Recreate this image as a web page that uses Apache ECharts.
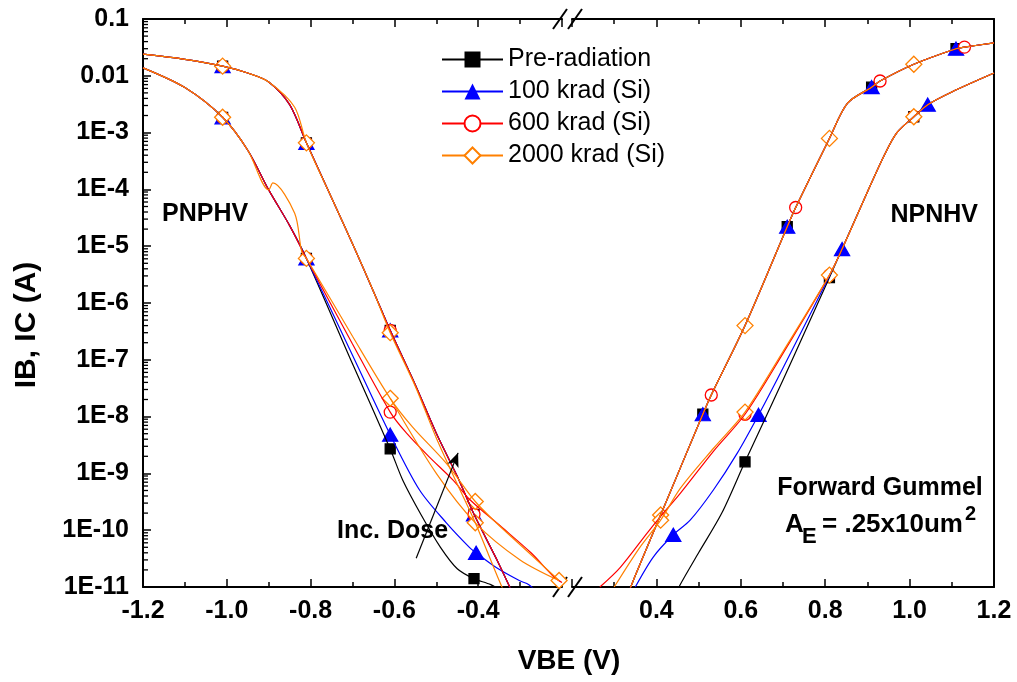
<!DOCTYPE html>
<html>
<head>
<meta charset="utf-8">
<script src="https://cdn.jsdelivr.net/npm/echarts@6/dist/echarts.min.js"></script>
<style>
    html, body { margin: 0; padding: 0; background: #fff; }
    #chart { width: 1017px; height: 682px; }
</style>
</head>
<body>
<div id="chart"></div>
<script>
    // legend names, one colour / marker per dose
    const doseNames = ['Pre-radiation', '100 krad (Si)', '600 krad (Si)', '2000 krad (Si)']

    // broken VBE axis: PNP half and NPN half
    const pnpRange = [-1.2, -0.2]
    const npnRange = [0.2, 1.2]
    const currentRange = [1e-11, 0.1]

    // ---- PNPHV, [VBE (V), I (A)] ----
    const pnpIC_common = [[-1.2, 2.4e-2], [-1.1, 1.95e-2], [-1.01, 1.48e-2], [-0.95, 1.12e-2], [-0.9, 7.8e-3], [-0.85, 3.1e-3],
        [-0.81, 6.6e-4], [-0.75, 7.1e-5], [-0.7, 1.1e-5], [-0.65, 1.6e-6], [-0.61, 3.3e-7], [-0.55, 3.6e-8], [-0.5, 5.1e-9],
        [-0.45, 8.9e-10], [-0.41, 1.9e-10], [-0.35, 2.5e-11], [-0.3, 4e-12]]
    const pnpIC_2000k = [[-1.2, 2.4e-2], [-1.1, 1.95e-2], [-1.01, 1.48e-2], [-0.95, 1.12e-2], [-0.9, 7.8e-3], [-0.838, 2.8e-3],
        [-0.81, 6.6e-4], [-0.75, 7.1e-5], [-0.7, 1.1e-5], [-0.65, 1.6e-6], [-0.61, 3.0e-7], [-0.55, 3.4e-8], [-0.5, 4.2e-9],
        [-0.45, 6.5e-10], [-0.407, 1.35e-10], [-0.35, 1.3e-11], [-0.33, 6e-12]]
    const pnpIB_pre = [[-1.2, 1.38e-2], [-1.1, 6.2e-3], [-1.01, 1.86e-3], [-0.95, 4.9e-4], [-0.9, 9.8e-5], [-0.85, 2.3e-5],
        [-0.81, 6.1e-6], [-0.7, 8.5e-8], [-0.61, 2.7e-9], [-0.58, 7.6e-10], [-0.535, 1.8e-10], [-0.49, 5e-11], [-0.45, 2.1e-11],
        [-0.41, 1.4e-11], [-0.37, 1.1e-11], [-0.34, 8e-12]]
    const pnpIB_100k = [[-1.2, 1.38e-2], [-1.1, 6.2e-3], [-1.01, 1.86e-3], [-0.95, 4.9e-4], [-0.9, 9.8e-5], [-0.85, 2.3e-5],
        [-0.81, 6.1e-6], [-0.7, 1.2e-7], [-0.61, 4.8e-9], [-0.54, 5.1e-10], [-0.476, 1.35e-10], [-0.421, 5e-11], [-0.405, 4e-11],
        [-0.357, 2.2e-11], [-0.302, 1.3e-11], [-0.279, 1.1e-11], [-0.26, 8e-12]]
    const pnpIB_600k = [[-1.2, 1.38e-2], [-1.1, 6.2e-3], [-1.01, 1.86e-3], [-0.95, 4.9e-4], [-0.9, 9.8e-5], [-0.85, 2.3e-5],
        [-0.81, 6.1e-6], [-0.7, 1.9e-7], [-0.61, 1.2e-8], [-0.571, 5.1e-9], [-0.517, 1.95e-9], [-0.46, 7.6e-10], [-0.419, 3.4e-10],
        [-0.345, 1.15e-10], [-0.274, 4e-11], [-0.219, 1.5e-11], [-0.2, 1.2e-11]]
    const pnpIB_2000k = [[-1.2, 1.38e-2], [-1.1, 6.2e-3], [-1.01, 1.86e-3], [-0.95, 4.9e-4], [-0.9, 9.8e-5], [-0.89, 1.3e-4],
        [-0.838, 3.8e-5], [-0.821, 7.9e-6], [-0.81, 6.1e-6], [-0.7, 2.6e-7], [-0.61, 2.1e-8], [-0.557, 6.6e-9], [-0.476, 1.5e-9],
        [-0.407, 3.2e-10], [-0.357, 1.35e-10], [-0.279, 4e-11], [-0.207, 1.3e-11]]
    // second 2000 krad trace below the first one
    const pnpIB_2000k_b = [[-0.61, 2.1e-8], [-0.5, 1.0e-9], [-0.407, 1.35e-10], [-0.3, 3e-11], [-0.207, 1.3e-11]]

    // ---- NPNHV ----
    const npnIC_common = [[0.33, 6.6e-12], [0.35, 1.6e-11], [0.41, 1.85e-10], [0.51, 1.1e-8], [0.53, 2.4e-8], [0.61, 4e-7],
        [0.71, 2.2e-5], [0.73, 4.8e-5], [0.81, 7.9e-4], [0.853, 3.3e-3], [0.91, 6.3e-3], [0.93, 8.1e-3], [1.01, 1.6e-2],
        [1.11, 3.0e-2], [1.13, 3.2e-2], [1.2, 3.8e-2]]
    const npnIB_pre = [[0.44, 6e-12], [0.455, 1.05e-11], [0.5, 4e-11], [0.555, 2e-10], [0.61, 1.6e-9], [0.7, 4.4e-8], [0.75, 2.9e-7],
        [0.81, 2.8e-6], [0.84, 8.9e-6], [0.9, 9e-5], [0.94, 4e-4], [0.97, 1e-3], [1.01, 1.9e-3], [1.043, 3.1e-3], [1.1, 5.2e-3], [1.2, 1.12e-2]]
    const npnIB_100k = [[0.35, 1e-11], [0.393, 3.4e-11], [0.44, 8.3e-11], [0.48, 1.5e-10], [0.535, 5.1e-10], [0.592, 2.3e-9],
        [0.642, 1.07e-8], [0.7, 7.2e-8], [0.81, 3.0e-6], [0.84, 8.9e-6], [0.9, 9e-5], [0.94, 4e-4], [0.97, 1e-3], [1.01, 1.9e-3],
        [1.043, 3.1e-3], [1.1, 5.2e-3], [1.2, 1.12e-2]]
    const npnIB_600k = [[0.266, 1e-11], [0.314, 2.2e-11], [0.378, 8.9e-11], [0.41, 1.75e-10], [0.457, 4.5e-10], [0.536, 2.5e-9],
        [0.61, 1.1e-8], [0.7, 1.3e-7], [0.81, 3.1e-6], [0.84, 8.9e-6], [0.9, 9e-5], [0.94, 4e-4], [0.97, 1e-3], [1.01, 1.9e-3],
        [1.043, 3.1e-3], [1.1, 5.2e-3], [1.2, 1.12e-2]]
    const npnIB_2000k = [[0.3, 1e-11], [0.36, 4.9e-11], [0.41, 1.5e-10], [0.457, 5.5e-10], [0.536, 2.8e-9], [0.61, 1.2e-8],
        [0.7, 1.4e-7], [0.81, 3.1e-6], [0.84, 8.9e-6], [0.9, 9e-5], [0.94, 4e-4], [0.97, 1e-3], [1.01, 1.9e-3], [1.043, 3.1e-3],
        [1.1, 5.2e-3], [1.2, 1.12e-2]]

    // measured points that carry a marker
    const pnpMarks_pre = [[-1.01, 1.48e-2], [-0.81, 6.6e-4], [-0.61, 3.3e-7], [-0.41, 1.9e-10],
        [-1.01, 1.86e-3], [-0.81, 6.1e-6], [-0.61, 2.7e-9], [-0.41, 1.4e-11]]
    const pnpMarks_100k = [[-1.01, 1.48e-2], [-0.81, 6.6e-4], [-0.61, 3.3e-7], [-0.41, 1.9e-10],
        [-1.01, 1.86e-3], [-0.81, 6.1e-6], [-0.61, 4.8e-9], [-0.405, 4e-11]]
    const pnpMarks_600k = [[-1.01, 1.48e-2], [-0.81, 6.6e-4], [-0.61, 3.3e-7], [-0.41, 1.9e-10],
        [-1.01, 1.86e-3], [-0.81, 6.1e-6], [-0.61, 1.2e-8]]
    const pnpMarks_2000k = [[-1.01, 1.48e-2], [-0.81, 6.6e-4], [-0.61, 3.0e-7], [-0.407, 1.35e-10],
        [-1.01, 1.86e-3], [-0.81, 6.1e-6], [-0.61, 2.1e-8], [-0.407, 3.2e-10], [-0.207, 1.3e-11]]
    const npnMarks_pre = [[0.51, 1.1e-8], [0.71, 2.2e-5], [0.91, 6.3e-3], [1.11, 3.0e-2],
        [0.61, 1.6e-9], [0.81, 2.8e-6], [1.01, 1.9e-3]]
    const npnMarks_100k = [[0.51, 1.1e-8], [0.71, 2.2e-5], [0.91, 6.3e-3], [1.11, 3.0e-2],
        [0.44, 8.3e-11], [0.642, 1.07e-8], [0.84, 8.9e-6], [1.043, 3.1e-3]]
    const npnMarks_600k = [[0.53, 2.4e-8], [0.73, 4.8e-5], [0.93, 8.1e-3], [1.13, 3.2e-2],
        [0.41, 1.75e-10], [0.61, 1.1e-8], [0.81, 3.1e-6], [1.01, 1.9e-3]]
    const npnMarks_2000k = [[0.41, 1.85e-10], [0.61, 4e-7], [0.81, 7.9e-4], [1.01, 1.6e-2],
        [0.41, 1.5e-10], [0.61, 1.2e-8], [0.81, 3.1e-6], [1.01, 1.9e-3]]

    // "Inc. Dose" arrow, tail -> head
    const doseArrow = [[-0.548, 3.2e-11], [-0.448, 2.3e-9]]

    const FONT = 'Liberation Sans'
    const doses = [
        { name: doseNames[0], color: '#000000', legendSymbol: 'rect', symbol: 'rect', size: 10, fill: '#000000',
            pnp: [pnpIC_common, pnpIB_pre], npn: [npnIC_common, npnIB_pre], marks: [pnpMarks_pre, npnMarks_pre] },
        { name: doseNames[1], color: '#0000FF', legendSymbol: 'triangle', symbol: 'triangle', size: [15, 13], fill: '#0000FF',
            pnp: [pnpIC_common, pnpIB_100k], npn: [npnIC_common, npnIB_100k], marks: [pnpMarks_100k, npnMarks_100k] },
        { name: doseNames[2], color: '#FF0000', legendSymbol: 'emptyCircle', symbol: 'circle', size: 12, fill: '#FFFFFF',
            pnp: [pnpIC_common, pnpIB_600k], npn: [npnIC_common, npnIB_600k], marks: [pnpMarks_600k, npnMarks_600k] },
        { name: doseNames[3], color: '#FF8000', legendSymbol: 'emptyDiamond', symbol: 'diamond', size: 16, fill: '#FFFFFF',
            pnp: [pnpIC_2000k, pnpIB_2000k, pnpIB_2000k_b], npn: [npnIC_common, npnIB_2000k], marks: [pnpMarks_2000k, npnMarks_2000k] }
    ]

    const lineSeries = (d, side, data) => ({
        name: d.name,
        type: 'line',
        xAxisIndex: side === 0 ? 0 : 2,
        yAxisIndex: side,
        data: data,
        smooth: 0.3,
        symbol: d.legendSymbol,
        showSymbol: false,
        lineStyle: { color: d.color, width: 1.2 },
        itemStyle: { color: d.color },
        emphasis: { disabled: true },
        silent: true
    })
    const markSeries = (d, side, data) => ({
        name: d.name,
        type: 'scatter',
        xAxisIndex: side === 0 ? 0 : 2,
        yAxisIndex: side,
        data: data,
        symbol: d.symbol,
        symbolSize: d.size,
        itemStyle: { color: d.fill, borderColor: d.color, borderWidth: 1.3, opacity: 1 },
        emphasis: { disabled: true },
        silent: true
    })

    let series = []
    doses.forEach(d => {
        d.pnp.forEach(c => series.push(lineSeries(d, 0, c)))
        series.push(markSeries(d, 0, d.marks[0]))
        d.npn.forEach(c => series.push(lineSeries(d, 1, c)))
        series.push(markSeries(d, 1, d.marks[1]))
    })
    series[0].markLine = {
        silent: true,
        symbol: ['none', 'arrow'],
        symbolSize: [9, 14],
        label: { show: false },
        lineStyle: { color: '#000', width: 1.2, type: 'solid' },
        data: [[{ coord: doseArrow[0] }, { coord: doseArrow[1] }]]
    }

    // log minor ticks (2..9 x 10^n) drawn on the left axis
    let minorTickVals = []
    for (let e = -11; e < -1; e++) {
        for (let k = 2; k <= 9; k++) minorTickVals.push(k * Math.pow(10, e))
    }
    series.push({
        type: 'custom',
        xAxisIndex: 0,
        yAxisIndex: 0,
        silent: true,
        clip: false,
        data: minorTickVals.map(v => [pnpRange[0], v]),
        renderItem: (params, api) => {
            const p = api.coord([api.value(0), api.value(1)])
            return {
                type: 'line',
                shape: { x1: p[0], y1: p[1], x2: p[0] + 5, y2: p[1] },
                style: { stroke: '#000', lineWidth: 1.3 }
            }
        }
    })

    const tickLabel = { fontSize: 25, fontWeight: 'bold', color: '#000', fontFamily: FONT }
    const xAxes = (gridIndex, range, isLeft) => {
        const base = {
            gridIndex: gridIndex,
            type: 'value',
            min: range[0],
            max: range[1],
            interval: 0.2,
            splitLine: { show: false },
            axisLine: { onZero: false, lineStyle: { color: '#000', width: 2 } },
            axisTick: { inside: true, length: 8, lineStyle: { color: '#000', width: 1.5 } },
            minorTick: { show: true, splitNumber: 2, length: 5, lineStyle: { color: '#000', width: 1.5 } }
        }
        return [
            Object.assign({}, base, {
                position: 'bottom',
                axisLabel: Object.assign({
                    margin: 12,
                    showMinLabel: isLeft,
                    showMaxLabel: !isLeft,
                    formatter: v => v.toFixed(1)
                }, tickLabel)
            }),
            Object.assign({}, base, { position: 'top', axisLabel: { show: false } })
        ]
    }

    const expLabel = v => {
        const e = Math.round(Math.log10(v))
        if (e === -1) return '0.1'
        if (e === -2) return '0.01'
        return '1E' + e
    }
    const logAxis = (gridIndex, side) => ({
        gridIndex: gridIndex,
        type: 'log',
        logBase: 10,
        min: currentRange[0],
        max: currentRange[1],
        interval: 1,
        position: side,
        splitLine: { show: false },
        axisLine: { show: true, onZero: false, lineStyle: { color: '#000', width: 2 } }
    })

    const boldText = (text, x, y, size, align, extra) => Object.assign({
        type: 'text',
        x: x,
        y: y,
        silent: true,
        style: {
            text: text,
            fill: '#000',
            font: 'bold ' + size + 'px "' + FONT + '"',
            textAlign: align || 'left',
            textVerticalAlign: 'middle'
        }
    }, extra || {})
    const slash = (cx, cy) => ({
        type: 'line',
        silent: true,
        shape: { x1: cx - 7, y1: cy + 10, x2: cx + 7, y2: cy - 10 },
        style: { stroke: '#000', lineWidth: 2 }
    })

    const option = {
        animation: false,
        backgroundColor: '#fff',
        textStyle: { fontFamily: FONT },
        grid: [
            { left: 143, top: 19, width: 419, height: 568 },
            { left: 572, top: 19, width: 422, height: 568 }
        ],
        xAxis: xAxes(0, pnpRange, true).concat(xAxes(1, npnRange, false)),
        yAxis: [
            Object.assign(logAxis(0, 'left'), {
                axisTick: { show: true, inside: true, length: 8, lineStyle: { color: '#000', width: 1.5 } },
                axisLabel: Object.assign({ margin: 14, formatter: expLabel }, tickLabel)
            }),
            Object.assign(logAxis(1, 'right'), {
                axisTick: { show: false },
                axisLabel: { show: false }
            })
        ],
        legend: {
            data: doseNames,
            orient: 'vertical',
            left: 436,
            top: 42,
            itemWidth: 61,
            itemHeight: 20,
            itemGap: 7,
            selectedMode: false,
            textStyle: { fontSize: 25, color: '#000', fontFamily: FONT }
        },
        graphic: [
            boldText('PNPHV', 162, 214, 25),
            boldText('NPNHV', 978, 215, 25, 'right'),
            boldText('Inc. Dose', 337, 531, 25),
            boldText('Forward Gummel', 880, 488, 25, 'center'),
            boldText('A', 785, 525, 26),
            boldText('E', 802, 537, 22),
            boldText('= .25x10um', 822, 525, 26),
            boldText('2', 965, 514, 20),
            boldText('VBE (V)', 569, 661, 28, 'center'),
            boldText('IB, IC (A)', 27, 325, 30, 'center', { rotation: Math.PI / 2 }),
            slash(560, 19), slash(575, 19),
            slash(560, 587), slash(575, 587)
        ],
        series: series
    }

    const chart = echarts.init(document.getElementById('chart'))
    chart.setOption(option)
</script>
</body>
</html>
